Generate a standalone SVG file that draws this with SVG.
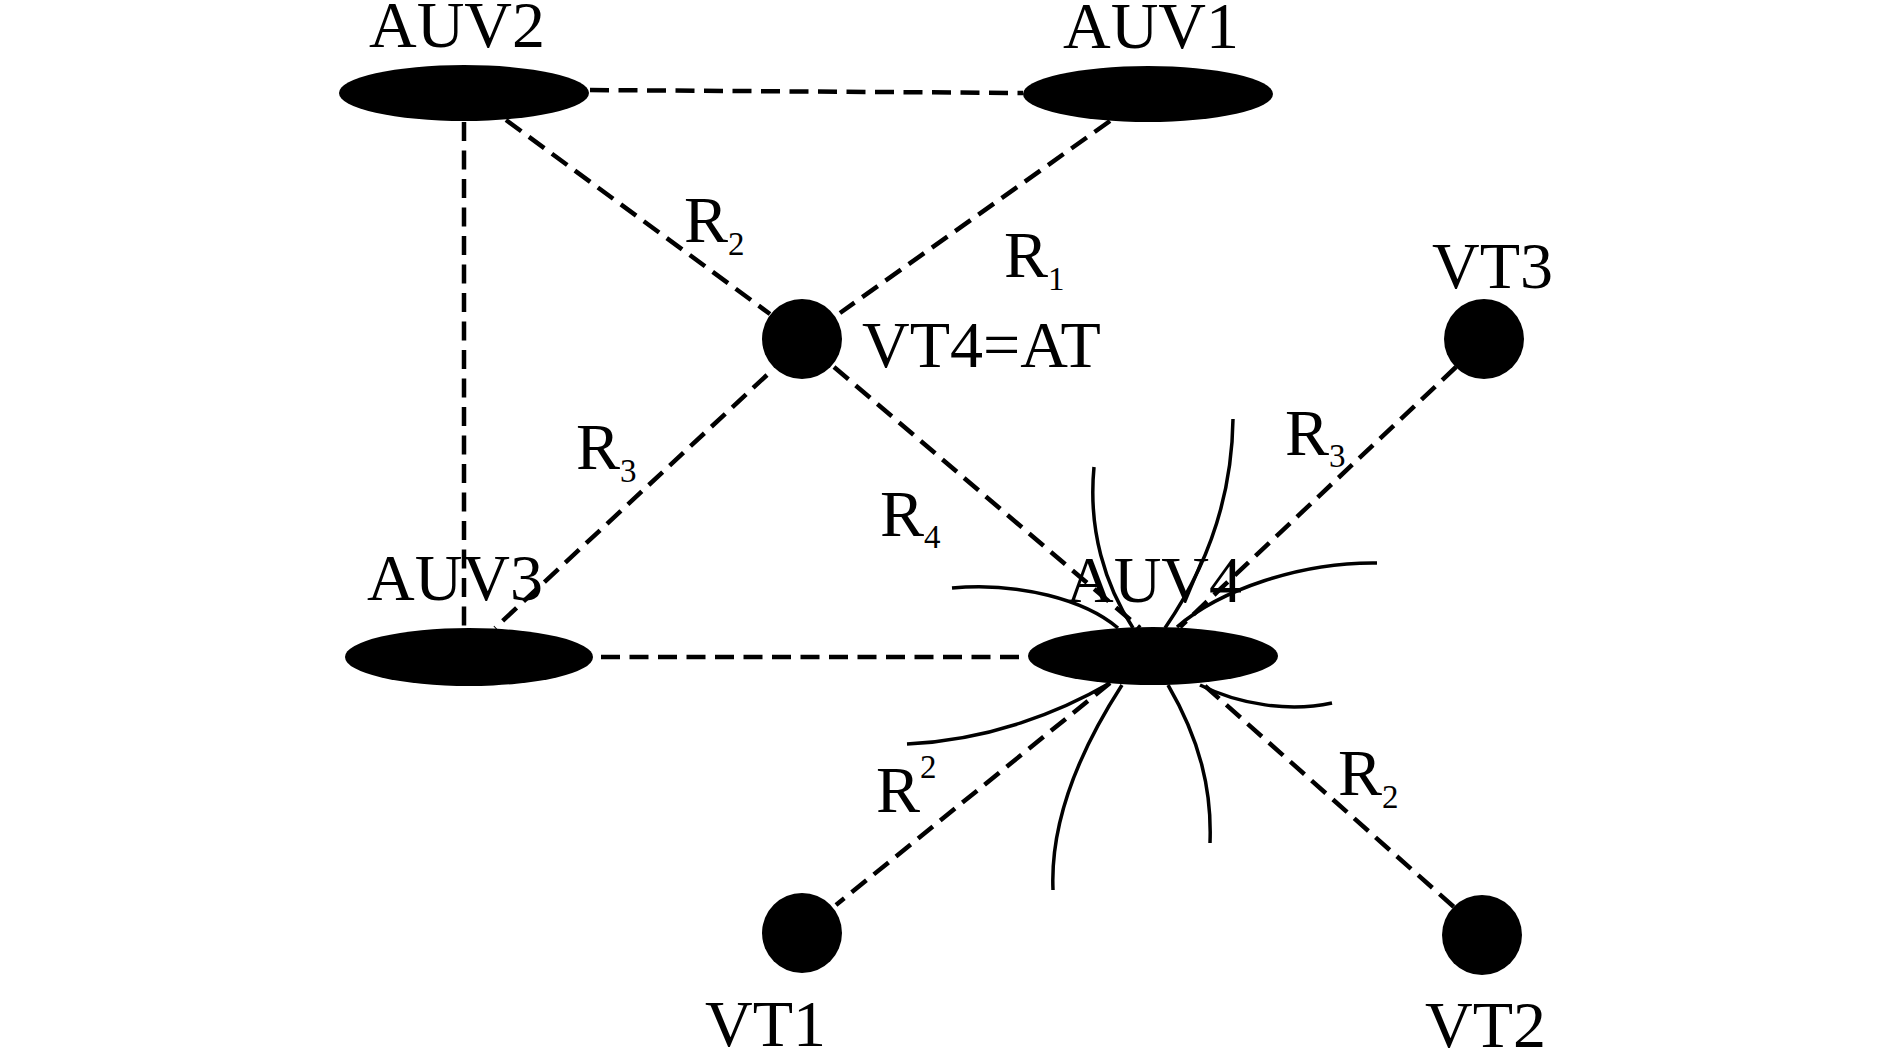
<svg xmlns="http://www.w3.org/2000/svg" width="1889" height="1049" viewBox="0 0 1889 1049">
<style>
.bg{fill:#fff}
.dash{stroke:#000;stroke-width:4.5;stroke-dasharray:19 9.5;fill:none}
.field{stroke:#000;stroke-width:3.5;fill:none}
.auv,.vt{fill:#000}
text{font-family:"Liberation Serif","Times New Roman",serif;font-size:66px;fill:#000}
.s{font-size:33px}
</style>
<rect class="bg" x="0" y="0" width="1889" height="1049"/>
<g id="connectors">
<line class="dash" x1="590" y1="90" x2="1023" y2="93"/>
<line class="dash" x1="464" y1="122" x2="464" y2="628"/>
<line class="dash" x1="506" y1="120" x2="770" y2="314"/>
<line class="dash" x1="1110" y1="121" x2="840" y2="313"/>
<line class="dash" x1="767" y1="375" x2="495" y2="628"/>
<line class="dash" x1="834" y1="367" x2="1140" y2="628"/>
<line class="dash" x1="601" y1="657" x2="1027" y2="657"/>
<line class="dash" x1="1456" y1="367" x2="1180" y2="627"/>
<line class="dash" x1="1110" y1="683" x2="836" y2="905"/>
<line class="dash" x1="1205" y1="686" x2="1454" y2="907"/>
</g>
<g id="field-lines">
<path class="field" d="M1233,419 C1232,500 1205,570 1165,628"/>
<path class="field" d="M1094,467 C1088,530 1105,585 1133,628"/>
<path class="field" d="M1377,563 C1300,562 1220,590 1177,627"/>
<path class="field" d="M952,588 C1020,582 1085,600 1118,628"/>
<path class="field" d="M1110,683 C1060,712 990,740 907,744"/>
<path class="field" d="M1122,685 C1080,750 1050,820 1053,890"/>
<path class="field" d="M1168,685 C1200,740 1212,790 1210,843"/>
<path class="field" d="M1200,685 C1240,705 1290,712 1332,703"/>
</g>
<g id="labels">
<text x="684" y="242">R<tspan class="s" dy="13">2</tspan></text>
<text x="1004" y="277">R<tspan class="s" dy="13">1</tspan></text>
<text x="576" y="469">R<tspan class="s" dy="13">3</tspan></text>
<text x="880" y="536">R<tspan class="s" dy="12">4</tspan></text>
<text x="1285" y="455">R<tspan class="s" dy="12">3</tspan></text>
<text x="1338" y="795">R<tspan class="s" dy="13">2</tspan></text>
<text x="876" y="812">R<tspan class="s" dy="-34">2</tspan></text>
</g>
<g id="AUV2"><ellipse class="auv" cx="464" cy="93" rx="125" ry="28"/><text x="369" y="47">AUV2</text></g>
<g id="AUV1"><ellipse class="auv" cx="1148" cy="94" rx="125" ry="28"/><text x="1063" y="48">AUV1</text></g>
<g id="AUV3"><ellipse class="auv" cx="469" cy="657" rx="124" ry="29"/><text x="367" y="600">AUV3</text></g>
<g id="AUV4"><ellipse class="auv" cx="1153" cy="656" rx="125" ry="29"/><text x="1066" y="602">AUV4</text></g>
<g id="VT4"><circle class="vt" cx="802" cy="339" r="40"/><text x="862" y="367">VT4=AT</text></g>
<g id="VT3"><circle class="vt" cx="1484" cy="339" r="40"/><text x="1432" y="288">VT3</text></g>
<g id="VT1"><circle class="vt" cx="802" cy="933" r="40"/><text x="705" y="1046">VT1</text></g>
<g id="VT2"><circle class="vt" cx="1482" cy="935" r="40"/><text x="1425" y="1047">VT2</text></g>
</svg>
